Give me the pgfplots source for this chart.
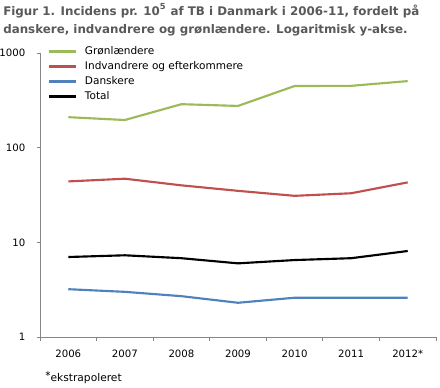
\documentclass[border=0pt]{standalone}
\usepackage{pgfplots}
\pgfplotsset{compat=1.18}
\usepackage{fontspec}
\setmainfont{DejaVu Sans}
\definecolor{cgreen}{RGB}{155,187,89}
\definecolor{cred}{RGB}{192,80,77}
\definecolor{cblue}{RGB}{79,129,189}
\definecolor{ctitle}{RGB}{89,89,89}
\definecolor{caxis}{RGB}{134,134,134}
\begin{document}
\begin{tikzpicture}
\begin{axis}[
  scale only axis,
  width=297pt, height=213pt,
  ymode=log,
  ymin=1, ymax=1000,
  xmin=-0.5, xmax=6.5,
  axis x line=bottom, axis y line=left,
  axis line style={-, draw=caxis, line width=0.6pt},
  xtick={0,...,6},
  xticklabels={2006,2007,2008,2009,2010,2011,2012*},
  major x tick style={draw=none},
  minor xtick={-0.5,0.5,...,6.5},
  minor tick length=3pt,
  minor x tick style={draw=caxis, line width=0.6pt},
  ytick={1,10,100,1000},
  yticklabels={1,10,100,1000},
  yminorticks=false,
  major tick length=2.5pt,
  tick align=outside,
  y tick style={draw=caxis, line width=0.6pt},
  tick label style={font=\fontsize{7.6}{9}\selectfont, text=black},
  yticklabel style={xshift=-5pt},
  xticklabel style={yshift=-4pt},
  /pgf/number format/assume math mode=true,
  clip=false,
  legend style={at={(rel axis cs:0.02,1.025)}, anchor=north west, draw=none, fill=none,
    font=\fontsize{7.9}{9}\selectfont, inner sep=0pt,
    nodes={inner sep=0pt, text height=6pt, text depth=2pt}, row sep=3.25pt},
  legend cell align=left,
  legend image code/.code={\draw[#1, line width=1.6pt] (0pt,0pt) -- (20pt,0pt);},
  every axis plot/.append style={line width=1.6pt},
]
\addplot[cgreen, mark=none] coordinates {(0,210) (1,196) (2,288) (3,276) (4,448) (5,450) (6,505)};
\addlegendentry{\hspace{6pt}Grønlændere}
\addplot[cred, mark=none] coordinates {(0,44) (1,47) (2,40) (3,35) (4,31) (5,33) (6,43)};
\addlegendentry{\hspace{6pt}Indvandrere og efterkommere}
\addplot[cblue, mark=none] coordinates {(0,3.2) (1,3.0) (2,2.7) (3,2.3) (4,2.6) (5,2.6) (6,2.6)};
\addlegendentry{\hspace{6pt}Danskere}
\addplot[black, mark=none] coordinates {(0,7.0) (1,7.3) (2,6.8) (3,6.0) (4,6.5) (5,6.8) (6,8.1)};
\addlegendentry{\hspace{6pt}Total}
\coordinate (ll) at (rel axis cs:0,0);
\coordinate (ur) at (rel axis cs:1,1);
\coordinate (ul) at (rel axis cs:0,1);
\end{axis}
\node[anchor=north west, inner sep=0pt, align=left, text=ctitle,
  font=\fontsize{8.9}{13.5}\selectfont\bfseries]
  at ([shift={(-27.75pt,37pt)}]ul)
  {Figur 1. Incidens pr. 10\textsuperscript{5} af TB i Danmark i 2006-11, fordelt på\\danskere, indvandrere og grønlændere. Logaritmisk y-akse.};
\node[anchor=base west, inner sep=0pt, font=\fontsize{8}{9}\selectfont]
  at ([shift={(3.75pt,-33pt)}]ll) {\raisebox{0.8pt}{*}ekstrapoleret};
\pgfresetboundingbox
\path[use as bounding box] ([shift={(-30pt,-37.5pt)}]ll) rectangle ([shift={(3pt,39.75pt)}]ur);
\end{tikzpicture}
\end{document}
